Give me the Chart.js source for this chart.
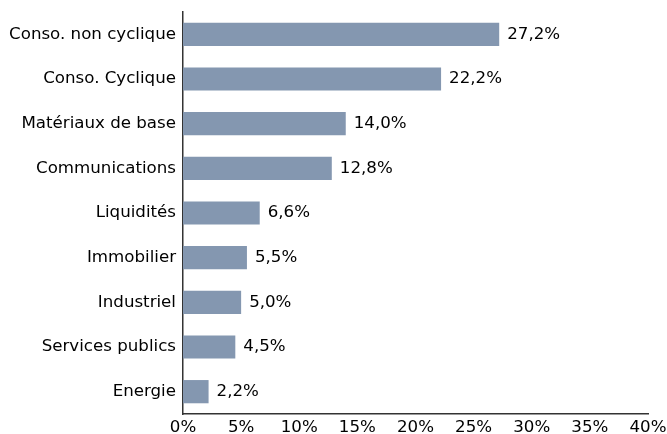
<!DOCTYPE html>
<html>
<head>
<meta charset="utf-8">
<script src="https://cdn.jsdelivr.net/npm/chart.js@4/dist/chart.umd.min.js"></script>
<style>
  html, body { margin: 0; padding: 0; background: #fff; }
  #wrap { width: 667px; height: 434px; }
</style>
</head>
<body>
<div id="wrap"><canvas id="myChart" width="667" height="434"></canvas></div>
<script>
// Daten
const secteurs = ['Conso. non cyclique', 'Conso. Cyclique', 'Matériaux de base', 'Communications',
    'Liquidités', 'Immobilier', 'Industriel', 'Services publics', 'Energie'];
const poids = [27.2, 22.2, 14.0, 12.8, 6.6, 5.5, 5.0, 4.5, 2.2];
const axeMax = 40;
const axePas = 5;

const fmt = v => v.toFixed(1).replace('.', ',') + '%';
const fontSize = 16.67;

// Werte rechts neben den Balken
const valueLabels = {
    id: 'valueLabels',
    afterDatasetsDraw(chart) {
        const ctx = chart.ctx;
        const meta = chart.getDatasetMeta(0);
        ctx.save();
        ctx.font = fontSize + 'px "DejaVu Sans"';
        ctx.fillStyle = '#000';
        ctx.textAlign = 'left';
        ctx.textBaseline = 'middle';
        meta.data.forEach((bar, i) => {
            ctx.fillText(fmt(poids[i]), bar.x + 8, bar.y);
        });
        ctx.restore();
    }
};

Chart.defaults.font.family = '"DejaVu Sans"';
Chart.defaults.font.size = fontSize;
Chart.defaults.color = '#000';

const ctx = document.getElementById('myChart').getContext('2d');
new Chart(ctx, {
    type: 'bar',
    data: {
        labels: secteurs,
        datasets: [{
            data: poids,
            backgroundColor: '#8497b0',
            barPercentage: 0.52,
            categoryPercentage: 1.0
        }]
    },
    options: {
        indexAxis: 'y',
        responsive: false,
        animation: false,
        layout: { padding: { top: 12, right: 19, left: 0, bottom: 0 } },
        plugins: {
            legend: { display: false },
            tooltip: { enabled: false }
        },
        scales: {
            x: {
                min: 0,
                max: axeMax,
                ticks: {
                    stepSize: axePas,
                    padding: 4,
                    maxRotation: 0,
                    callback: v => v + '%'
                },
                grid: { display: false, drawTicks: false },
                border: { display: true, color: '#333', width: 1.5 },
                afterFit: s => { s.height = 20; s.paddingLeft = 0; s.paddingRight = 0; }
            },
            y: {
                ticks: { padding: 7, autoSkip: false },
                grid: { display: false, drawTicks: false },
                border: { display: true, color: '#333', width: 1.5 },
                afterFit: s => { s.width = 183; s.paddingTop = 0; s.paddingBottom = 0; }
            }
        }
    },
    plugins: [valueLabels]
});
</script>
</body>
</html>
